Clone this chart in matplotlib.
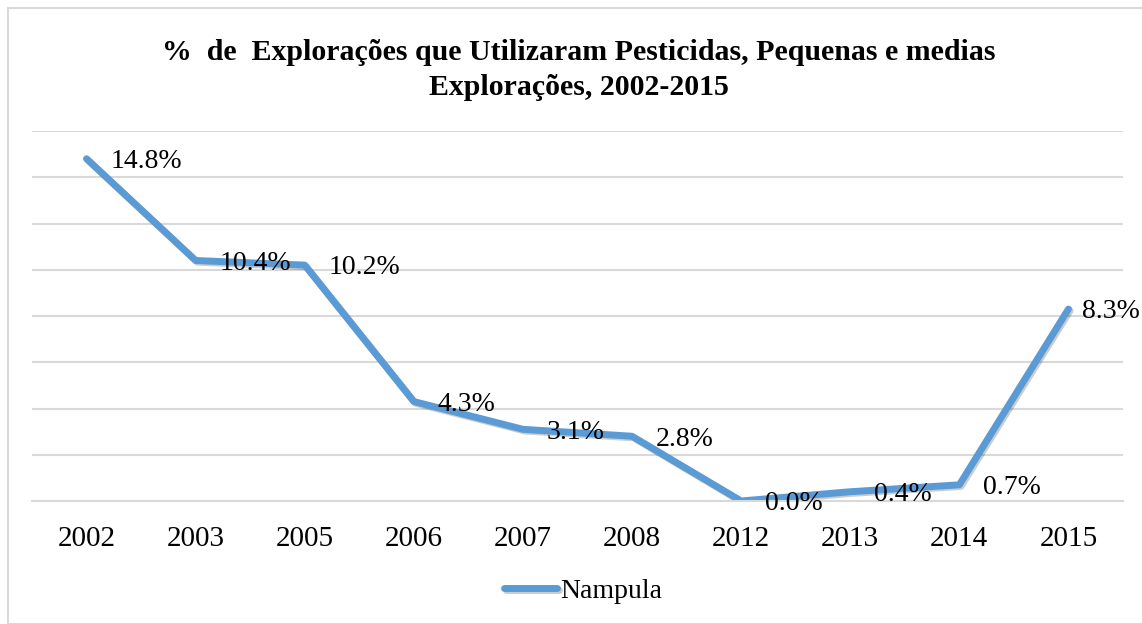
import matplotlib.pyplot as plt
import matplotlib.patheffects as pe
from matplotlib.patches import Rectangle

years = ["2002", "2003", "2005", "2006", "2007", "2008", "2012", "2013", "2014", "2015"]
nampula = [0.148, 0.104, 0.102, 0.043, 0.031, 0.028, 0.000, 0.004, 0.007, 0.083]
labels = ["14.8%", "10.4%", "10.2%", "4.3%", "3.1%", "2.8%", "0.0%", "0.4%", "0.7%", "8.3%"]

plt.rcParams['font.family'] = ['Liberation Serif', 'DejaVu Serif']

fig = plt.figure(figsize=(11.42, 6.24), dpi=100)
fig.patches.append(Rectangle((8/1142, 0), 1.2, 1 - 8/624, transform=fig.transFigure,
                             fill=False, edgecolor="#d9d9d9", linewidth=1.5))
ax = fig.add_axes([32/1142, 1 - 501/624, (1123 - 32)/1142, (501 - 131)/624])

x = list(range(len(years)))
ax.plot(x, nampula, color="#5b9bd5", linewidth=5, solid_capstyle="round",
        solid_joinstyle="round", label="Nampula",
        path_effects=[pe.SimpleLineShadow(offset=(1.2, -1.2), shadow_color="black", alpha=0.2),
                      pe.Normal()])
for xi, v, t in zip(x, nampula, labels):
    dx = 10 if xi == len(years) - 1 else 17
    ax.annotate(t, (xi, v), xytext=(dx, -2), textcoords="offset points",
                ha="left", va="center", fontsize=20, color="#000000")

ax.set_xlim(-0.5, len(years) - 0.5)
ax.set_ylim(0, 0.16)
ax.set_yticks([i * 0.02 for i in range(9)])
ax.set_yticklabels([])
ax.tick_params(axis="y", length=0)
ax.set_xticks(x)
ax.set_xticklabels(years, fontsize=21)
ax.tick_params(axis="x", length=0, pad=18)
ax.grid(axis="y", color="#d9d9d9", linewidth=1.5)
ax.set_axisbelow(True)
for s in ["top", "right", "left"]:
    ax.spines[s].set_visible(False)
ax.spines["bottom"].set_color("#d9d9d9")
ax.spines["bottom"].set_linewidth(1.5)

fig.text(579/1142, 1 - 70/624, "%  de  Explorações que Utilizaram Pesticidas, Pequenas e medias\nExplorações, 2002-2015",
         ha="center", va="center", fontsize=21.5, fontweight="bold", linespacing=1.4)

fig.legend(loc="center", bbox_to_anchor=(583/1142, 1 - 591/624), frameon=False,
           fontsize=20, handlelength=1.9, handletextpad=0.1)

fig.savefig("out.png", dpi=100)
